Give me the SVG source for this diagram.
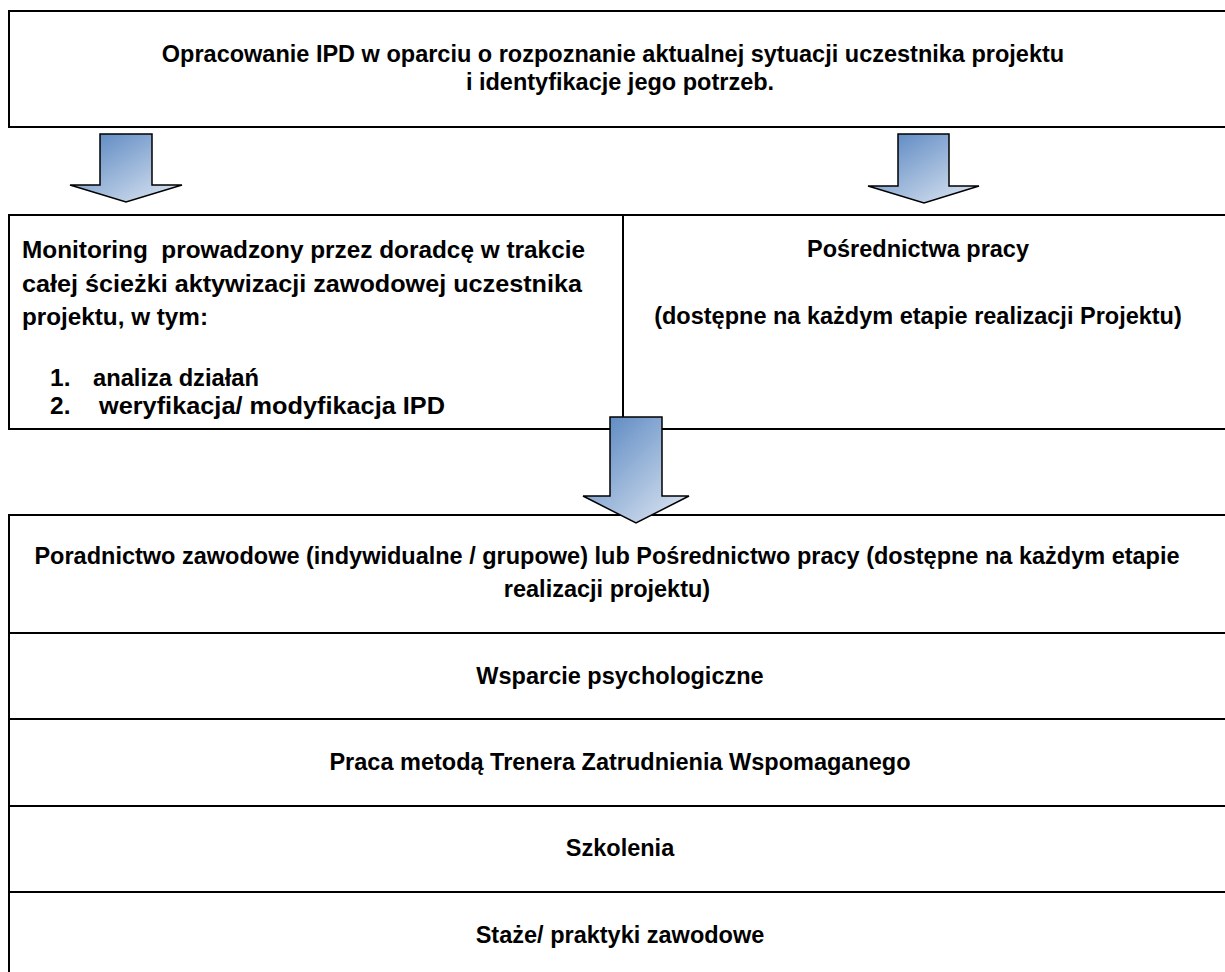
<svg xmlns="http://www.w3.org/2000/svg" width="1225" height="972" viewBox="0 0 1225 972">
  <style>
    .box { fill: #ffffff; stroke: #000000; stroke-width: 2; }
    .t { font-family: "Liberation Sans", Arial, sans-serif; font-weight: bold; font-size: 23.5px; fill: #000000; }
    .m { font-size: 24.5px; }
    .c { text-anchor: middle; }
    .arrow { fill: url(#arrowGrad); stroke: #000000; stroke-width: 1.5; stroke-linejoin: miter; }
  </style>
  <defs>
    <linearGradient id="arrowGrad" x1="0" y1="0" x2="1" y2="1">
      <stop offset="0" stop-color="#4f7fbd"/>
      <stop offset="1" stop-color="#e2eaf4"/>
    </linearGradient>
  </defs>
  <rect x="0" y="0" width="1225" height="972" fill="#ffffff"/>

  <g id="node-ipd">
    <rect class="box" x="9" y="11" width="1240" height="116"/>
    <text class="t c" x="613" y="62">Opracowanie IPD w oparciu o rozpoznanie aktualnej sytuacji uczestnika projektu</text>
    <text class="t c" x="620" y="90">i identyfikacje jego potrzeb.</text>
  </g>

  <g id="node-monitoring">
    <rect class="box" x="9" y="215" width="614" height="214"/>
    <text class="t m" x="22" y="258" xml:space="preserve" textLength="563" lengthAdjust="spacingAndGlyphs">Monitoring  prowadzony przez doradcę w trakcie</text>
    <text class="t m" x="22" y="292" textLength="560" lengthAdjust="spacingAndGlyphs">całej ścieżki aktywizacji zawodowej uczestnika</text>
    <text class="t m" x="22" y="325" textLength="186" lengthAdjust="spacingAndGlyphs">projektu, w tym:</text>
    <text class="t m" x="50" y="386">1.</text>
    <text class="t m" x="93" y="386" textLength="166" lengthAdjust="spacingAndGlyphs">analiza działań</text>
    <text class="t m" x="50" y="414">2.</text>
    <text class="t m" x="99" y="414" textLength="346" lengthAdjust="spacingAndGlyphs">weryfikacja/ modyfikacja IPD</text>
  </g>

  <g id="node-posrednictwo">
    <rect class="box" x="623" y="215" width="626" height="214"/>
    <text class="t c" x="918" y="257">Pośrednictwa pracy</text>
    <text class="t c" x="918" y="324">(dostępne na każdym etapie realizacji Projektu)</text>
  </g>

  <g id="node-poradnictwo">
    <rect class="box" x="9" y="515" width="1240" height="118"/>
    <text class="t c" x="607" y="564">Poradnictwo zawodowe (indywidualne / grupowe) lub Pośrednictwo pracy (dostępne na każdym etapie</text>
    <text class="t c" x="607" y="597">realizacji projektu)</text>
  </g>

  <g id="node-wsparcie">
    <rect class="box" x="9" y="633" width="1240" height="86"/>
    <text class="t c" x="620" y="684">Wsparcie psychologiczne</text>
  </g>

  <g id="node-praca">
    <rect class="box" x="9" y="719" width="1240" height="87"/>
    <text class="t c" x="620" y="770">Praca metodą Trenera Zatrudnienia Wspomaganego</text>
  </g>

  <g id="node-szkolenia">
    <rect class="box" x="9" y="806" width="1240" height="86"/>
    <text class="t c" x="620" y="856">Szkolenia</text>
  </g>

  <g id="node-staze">
    <rect class="box" x="9" y="892" width="1240" height="100"/>
    <text class="t c" x="620" y="943">Staże/ praktyki zawodowe</text>
  </g>

  <g id="connectors">
    <path class="arrow" d="M100,134 H152 V185 H182 L126,202 L70,185 H100 Z"/>
    <path class="arrow" d="M898,134 H949 V186 H979 L924,203 L868,186 H898 Z"/>
    <path class="arrow" d="M610,417 H662 V496 H689 L636,523 L583,496 H610 Z"/>
  </g>
</svg>
